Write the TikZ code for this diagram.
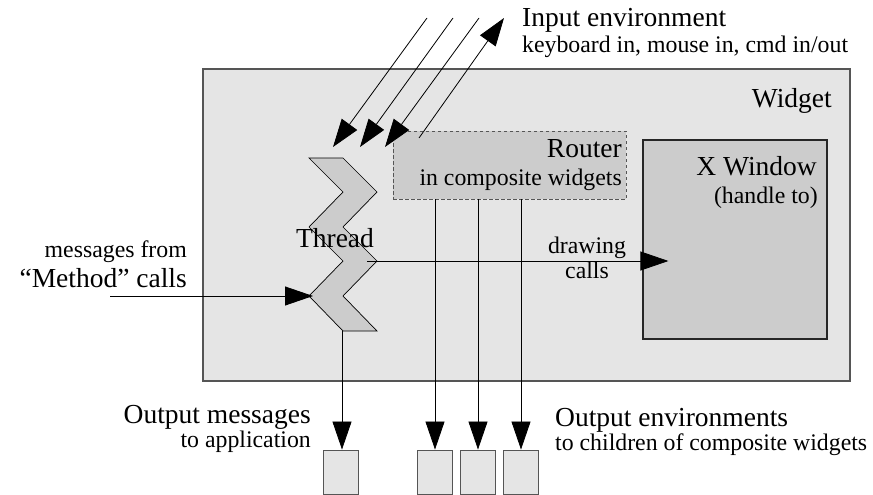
\documentclass[tikz,border=0pt]{standalone}
\usepackage{fontspec}
\setmainfont{Liberation Serif}
\newfontfamily\subserif{Liberation Serif}[Ligatures=TeX]
\usetikzlibrary{arrows.meta,calc}
\definecolor{widgetgray}{HTML}{E5E5E5}
\definecolor{routergray}{HTML}{CCCCCC}
\definecolor{edgegray}{HTML}{555555}
\newcommand{\bigtext}{\fontsize{27.5}{30}\selectfont}
\newcommand{\smalltext}{\subserif\fontsize{23.8}{26}\selectfont}
\tikzset{>={Triangle[length=28pt,width=19pt]}}
\tikzset{
  panel/.style = {rectangle, draw=edgegray, line width=1.1pt, inner sep=0pt},
  outbox/.style = {panel, fill=widgetgray, line width=0.9pt, minimum width=35pt, minimum height=44pt},
  titletext/.style = {font=\bigtext, inner sep=0pt},
  subtext/.style = {font=\smalltext, inner sep=0pt},
  wire/.style = {->, line width=0.8pt}
}

\begin{document}
\begin{tikzpicture}[x=1pt,y=-1pt]
  \useasboundingbox (0,0) rectangle (873,495);
  % widget
  \node[panel, fill=widgetgray, minimum width=647pt, minimum height=312pt] (widget) at (526.5,225) {};
  \node[titletext, anchor=base east] (widgetlbl) at (832,107) {Widget};
  % router
  \node[panel, fill=routergray, draw=edgegray, line width=0.8pt, dash pattern=on 3.5pt off 2.5pt,
        minimum width=233pt, minimum height=68pt] (router) at (509.5,165) {};
  \node[titletext, anchor=base east] (routerlbl) at (622,157) {Router};
  \node[subtext, anchor=base east] (routernote) at (622,185) {in composite widgets};
  % x window
  \node[panel, fill=routergray, draw=black!85, minimum width=184pt, minimum height=199pt] (xwin) at (735,239.5) {};
  \node[titletext, anchor=base east] (xwinlbl) at (817,175) {X Window};
  \node[subtext, anchor=base east] (xwinnote) at (818,203) {(handle to)};
  % thread
  \draw[fill=routergray, line width=0.7pt] (309,158) -- (343,158) -- (377,192) -- (343,227) -- (377,261)
    -- (343,296) -- (377,331) -- (343,331) -- (309,296) -- (343,261) -- (309,227) -- (343,192) -- cycle;
  \coordinate (threadw) at (313,296);
  \coordinate (threade) at (367,261);
  \coordinate (threads) at (342,331);
  \node[titletext, anchor=base] (threadlbl) at (335,247) {Thread};
  % input environment
  \coordinate (ina) at (427,18);  \coordinate (inatip) at (333,147);
  \coordinate (inb) at (453,18);  \coordinate (inbtip) at (360,147);
  \coordinate (inc) at (479,18);  \coordinate (inctip) at (385,147);
  \coordinate (outd) at (419,138); \coordinate (outdtip) at (504,18);
  \draw[wire] (ina) -- (inatip);
  \draw[wire] (inb) -- (inbtip);
  \draw[wire] (inc) -- (inctip);
  \draw[wire] (outd) -- (outdtip);
  \node[titletext, anchor=base west] (inputlbl) at (522,27) {Input environment};
  \node[subtext, anchor=base west] (inputnote) at (522,53) {keyboard in, mouse in, cmd in/out};
  % method calls
  \coordinate (msg) at (110,296);
  \draw[wire] (msg) -- (threadw);
  \node[subtext, anchor=base east] (msgnote) at (187,257) {messages from};
  \node[titletext, anchor=base east] (msglbl) at (187,287) {“Method” calls};
  % drawing calls
  \coordinate (draww) at ($(xwin.west |- threade)+(26,0)$);
  \draw[wire] (threade) -- (draww);
  \node[subtext, anchor=base] (drawa) at (587,253) {drawing};
  \node[subtext, anchor=base] (drawb) at (587,278) {calls};
  % outputs
  \node[outbox] (app) at (341,472) {};
  \node[outbox] (kida) at (435,472) {};
  \node[outbox] (kidb) at (478,472) {};
  \node[outbox] (kidc) at (521,472) {};
  \draw[wire] (threads) -- (threads |- app.north);
  \foreach \k in {kida,kidb,kidc}
    \draw[wire] (router.south -| \k.north) -- (\k.north);
  \node[titletext, anchor=base east] (applbl) at (311,423) {Output messages};
  \node[subtext, anchor=base east] (appnote) at (311,447) {to application};
  \node[titletext, anchor=base west] (kidlbl) at (555,426) {Output environments};
  \node[subtext, anchor=base west] (kidnote) at (555,450) {to children of composite widgets};
\end{tikzpicture}
\end{document}
